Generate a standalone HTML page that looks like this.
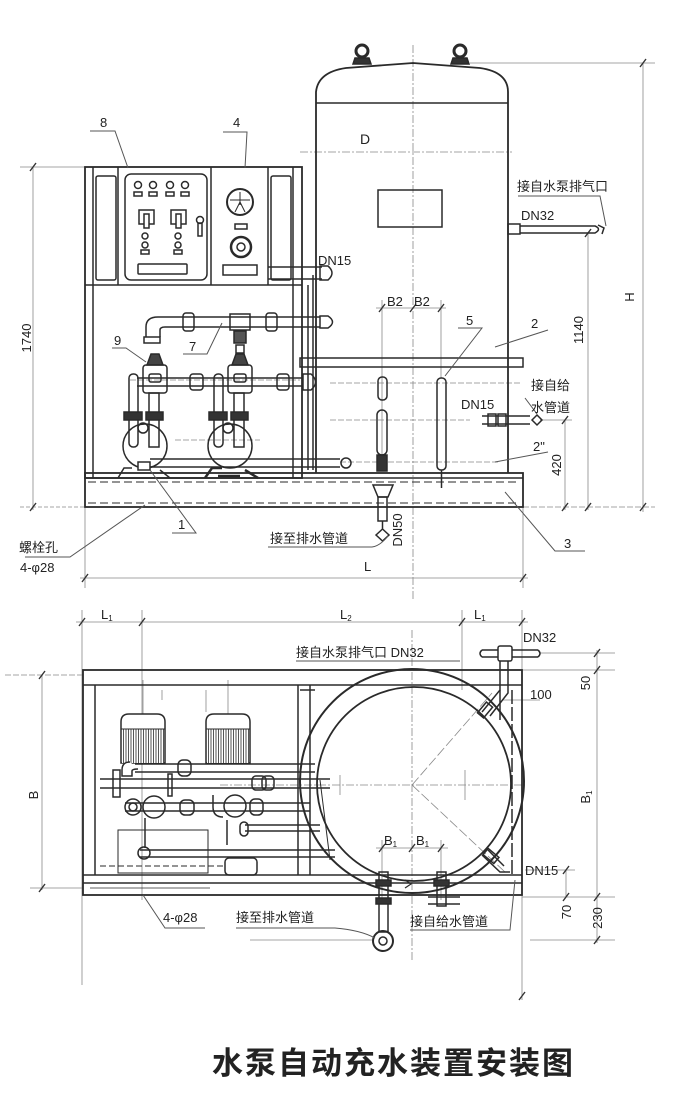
<!DOCTYPE html>
<html><head><meta charset="utf-8"><style>
html,body{margin:0;padding:0;background:#fff;}
svg{display:block;}
text{font-family:"Liberation Sans","Noto Sans CJK SC",sans-serif;fill:#222;stroke:none;}
</style></head><body>
<svg width="675" height="1100" viewBox="0 0 675 1100" xmlns="http://www.w3.org/2000/svg">
<defs>
<pattern id="hv" width="2.5" height="4" patternUnits="userSpaceOnUse"><rect width="2.5" height="4" fill="#fff"/><line x1="1" y1="0" x2="1" y2="4" stroke="#555" stroke-width="1"/></pattern>
</defs>

<!-- ============ CENTER / DIM LINES (thin) ============ -->
<g fill="none" stroke="#888" stroke-width="0.8">
  <!-- elevation -->
  <line x1="413" y1="45" x2="413" y2="600" stroke-dasharray="8 2 2 2"/>
  <line x1="300" y1="152" x2="512" y2="152" stroke-dasharray="8 2 2 2"/>
  <line x1="470" y1="63" x2="655" y2="63"/>
  <line x1="643" y1="63" x2="643" y2="512"/>
  <line x1="523" y1="507" x2="655" y2="507" stroke-dasharray="6 2"/>
  <line x1="588" y1="233" x2="588" y2="510"/>
  <line x1="565" y1="420" x2="565" y2="510"/>
  <line x1="540" y1="420" x2="572" y2="420"/>
  <line x1="20" y1="167" x2="85" y2="167"/>
  <line x1="33" y1="167" x2="33" y2="510"/>
  <line x1="20" y1="507" x2="85" y2="507" stroke-dasharray="4 2"/>
  <line x1="85" y1="507" x2="85" y2="588"/>
  <line x1="523" y1="507" x2="523" y2="588"/>
  <line x1="80" y1="578" x2="528" y2="578"/>
  <line x1="382" y1="300" x2="382" y2="470"/>
  <line x1="441" y1="300" x2="441" y2="378"/>
  <line x1="376" y1="308" x2="446" y2="308"/>
  <line x1="330" y1="383" x2="520" y2="383" stroke-dasharray="6 2"/>
  <line x1="330" y1="420" x2="470" y2="420" stroke-dasharray="6 2"/>
  <line x1="340" y1="462" x2="500" y2="462" stroke-dasharray="6 2"/>
  <line x1="130" y1="380" x2="300" y2="380" stroke-dasharray="6 2"/>
  <line x1="175" y1="440" x2="260" y2="440" stroke-dasharray="6 2"/>
  <!-- plan -->
  <line x1="82" y1="610" x2="82" y2="985"/>
  <line x1="142" y1="610" x2="142" y2="900"/>
  <line x1="462" y1="610" x2="462" y2="690"/>
  <line x1="522" y1="610" x2="522" y2="1000"/>
  <line x1="76" y1="622" x2="528" y2="622"/>
  <line x1="5" y1="675" x2="83" y2="675" stroke-dasharray="6 2"/>
  <line x1="30" y1="888" x2="83" y2="888"/>
  <line x1="42" y1="675" x2="42" y2="890"/>
  <line x1="540" y1="653" x2="615" y2="653"/>
  <line x1="522" y1="670" x2="615" y2="670"/>
  <line x1="522" y1="897" x2="615" y2="897"/>
  <line x1="530" y1="940" x2="615" y2="940"/>
  <line x1="597" y1="650" x2="597" y2="943"/>
  <line x1="566" y1="870" x2="566" y2="897"/>
  <line x1="525" y1="870" x2="575" y2="870"/>
  <line x1="412" y1="630" x2="412" y2="960" stroke-dasharray="8 2 2 2"/>
  <line x1="220" y1="785" x2="525" y2="785" stroke-dasharray="8 2 2 2"/>
  <line x1="412" y1="785" x2="492" y2="693" stroke-dasharray="10 3"/>
  <line x1="412" y1="785" x2="505" y2="872" stroke-dasharray="10 3"/>
  <line x1="382" y1="840" x2="382" y2="900"/>
  <line x1="441" y1="840" x2="441" y2="900"/>
  <line x1="376" y1="848" x2="448" y2="848"/>
  <line x1="340" y1="775" x2="340" y2="795"/>
  <line x1="465" y1="770" x2="465" y2="800"/>
  <line x1="502" y1="700" x2="540" y2="700"/>
  <line x1="250" y1="940" x2="372" y2="940"/>
  <line x1="162" y1="700" x2="162" y2="690"/>
  <line x1="206" y1="690" x2="206" y2="712"/>
  <line x1="143" y1="680" x2="143" y2="715"/>
  <line x1="228" y1="680" x2="228" y2="715"/>
</g>
<!-- dimension ticks -->
<g stroke="#333" stroke-width="1.4">
  <line x1="640" y1="67" x2="646" y2="59"/><line x1="640" y1="511" x2="646" y2="503"/>
  <line x1="585" y1="237" x2="591" y2="229"/><line x1="585" y1="511" x2="591" y2="503"/>
  <line x1="562" y1="424" x2="568" y2="416"/><line x1="562" y1="511" x2="568" y2="503"/>
  <line x1="30" y1="171" x2="36" y2="163"/><line x1="30" y1="511" x2="36" y2="503"/>
  <line x1="82" y1="582" x2="88" y2="574"/><line x1="520" y1="582" x2="526" y2="574"/>
  <line x1="379" y1="312" x2="385" y2="304"/><line x1="410" y1="312" x2="416" y2="304"/><line x1="438" y1="312" x2="444" y2="304"/>
  <line x1="79" y1="626" x2="85" y2="618"/><line x1="139" y1="626" x2="145" y2="618"/><line x1="459" y1="626" x2="465" y2="618"/><line x1="519" y1="626" x2="525" y2="618"/>
  <line x1="39" y1="679" x2="45" y2="671"/><line x1="39" y1="892" x2="45" y2="884"/>
  <line x1="594" y1="657" x2="600" y2="649"/><line x1="594" y1="674" x2="600" y2="666"/><line x1="594" y1="901" x2="600" y2="893"/><line x1="594" y1="944" x2="600" y2="936"/>
  <line x1="379" y1="852" x2="385" y2="844"/><line x1="409" y1="852" x2="415" y2="844"/><line x1="438" y1="852" x2="444" y2="844"/>
  <line x1="563" y1="874" x2="569" y2="866"/><line x1="563" y1="901" x2="569" y2="893"/>
  <line x1="519" y1="1000" x2="525" y2="992"/>
</g>

<!-- ============ ELEVATION VIEW ============ -->
<g fill="none" stroke="#2a2a2a" stroke-width="1.5">
  <!-- tank -->
  <path d="M316,473 V92 Q318,72 346,68 L413,63 L480,68 Q508,72 508,92 V473" stroke-width="1.8"/>
  <line x1="316" y1="103" x2="508" y2="103"/>
  <rect x="378" y="190" width="64" height="37"/>
  <circle cx="362" cy="51" r="6" stroke-width="3"/>
  <circle cx="460" cy="51" r="6" stroke-width="3"/>
  <path d="M355,58 h14 l2,6 h-18z M453,58 h14 l2,6 h-18z" fill="#333"/>
  <!-- DN32 top pipe -->
  <rect x="508" y="224" width="12" height="10"/>
  <path d="M520,226 H595 Q602,229 595,233 H520"/>
  <path d="M598,225 l6,3 -2,6" />
  <!-- cabinet frame -->
  <rect x="85" y="167" width="217" height="311" stroke-width="1.8"/>
  <line x1="93" y1="167" x2="93" y2="478"/>
  <line x1="293" y1="167" x2="293" y2="478"/>
  <line x1="85" y1="285" x2="302" y2="285"/>
  <line x1="118" y1="167" x2="118" y2="285"/>
  <line x1="268" y1="167" x2="268" y2="285"/>
  <line x1="211" y1="167" x2="211" y2="285"/>
  <rect x="96" y="176" width="20" height="104" rx="2"/>
  <rect x="271" y="176" width="20" height="104" rx="2"/>
  <rect x="125" y="174" width="82" height="106" rx="6"/>
  <!-- lamps -->
  <circle cx="138" cy="185" r="3.5"/><circle cx="153" cy="185" r="3.5"/><circle cx="170" cy="185" r="3.5"/><circle cx="185" cy="185" r="3.5"/>
  <rect x="134" y="192" width="8" height="4"/><rect x="149" y="192" width="8" height="4"/><rect x="166" y="192" width="8" height="4"/><rect x="181" y="192" width="8" height="4"/>
  <rect x="139" y="210" width="15" height="14"/><rect x="171" y="210" width="15" height="14"/>
  <rect x="144" y="214" width="5" height="14" fill="#fff"/><rect x="176" y="214" width="5" height="14" fill="#fff"/>
  <circle cx="200" cy="220" r="3.5"/><rect x="198" y="223" width="4" height="13"/>
  <circle cx="145" cy="236" r="3"/><circle cx="145" cy="245" r="3"/><rect x="141" y="250" width="8" height="4"/>
  <circle cx="178" cy="236" r="3"/><circle cx="178" cy="245" r="3"/><rect x="174" y="250" width="8" height="4"/>
  <rect x="138" y="264" width="49" height="10" rx="1"/>
  <!-- gauge panel -->
  <circle cx="240" cy="202" r="13" stroke-width="2"/>
  <path d="M240,192 V205 M235,212 L240,202 L245,212 M230,200 L250,200" stroke-width="1"/>
  <rect x="235" y="224" width="12" height="5"/>
  <circle cx="241" cy="247" r="10" stroke-width="2.5"/><circle cx="241" cy="247" r="4"/>
  <rect x="223" y="265" width="34" height="10"/>
  <!-- DN15 from cabinet -->
  <path d="M268,267 H322 M268,279 H322"/>
  <path d="M320,266 h8 q8,7 0,14 h-8z"/>
  <line x1="313" y1="275" x2="313" y2="470"/>
  <line x1="308" y1="285" x2="308" y2="470"/>
  <!-- shelf -->
  <rect x="300" y="358" width="223" height="9"/>
  <!-- base -->
  <rect x="85" y="473" width="438" height="34" stroke-width="1.8"/>
  <line x1="85" y1="478" x2="523" y2="478"/>
  <line x1="88" y1="503" x2="520" y2="503" stroke-dasharray="8 4" stroke-width="1"/>
  <line x1="88" y1="482" x2="520" y2="482" stroke-dasharray="8 4" stroke-width="1"/>

  <!-- top pipe -->
  <path d="M146,337 V327 Q146,317 158,317 H320 M160,337 V330 Q160,327 165,327 H320"/>
  <path d="M320,316 h8 q9,6 0,12 h-8z"/>
  <rect x="183" y="313" width="11" height="18" rx="3"/>
  <rect x="230" y="314" width="20" height="16"/>
  <rect x="266" y="313" width="11" height="18" rx="3"/>
  <rect x="234" y="331" width="12" height="12" fill="#555"/>
  <rect x="236" y="345" width="8" height="8"/>
  <rect x="144" y="337" width="16" height="6"/>
  <!-- second pipe -->
  <path d="M137,378 H303 M137,386 H303"/>
  <path d="M303,374 h8 q9,8 0,16 h-8z"/>
  <rect x="190" y="374" width="13" height="16" rx="3"/>
  <rect x="277" y="374" width="12" height="16" rx="3"/>
  <!-- bottom pipe -->
  <path d="M150,459 H340 M150,467 H340"/>
  <circle cx="346" cy="463" r="5"/>
  <!-- pump 1 -->
  <path d="M147,365 L151,354 H159 L163,365 Z" fill="#444"/>
  <rect x="143" y="365" width="24" height="28" rx="3"/>
  <rect x="149" y="374" width="12" height="8" rx="2"/>
  <rect x="129" y="374" width="9" height="73" rx="4"/>
  <rect x="149" y="393" width="10" height="54"/>
  <rect x="124" y="412" width="18" height="8" fill="#333"/>
  <rect x="146" y="412" width="17" height="8" fill="#333"/>
  <circle cx="143" cy="428" r="5"/>
  <circle cx="145" cy="446" r="22"/>
  <path d="M118,478 L124,468 H132 M160,470 L170,478" />
  <rect x="138" y="462" width="12" height="8" fill="#fff"/>
  <!-- pump 2 -->
  <path d="M232,365 L236,354 H244 L248,365 Z" fill="#444"/>
  <rect x="228" y="365" width="24" height="28" rx="3"/>
  <rect x="234" y="374" width="12" height="8" rx="2"/>
  <rect x="214" y="374" width="9" height="73" rx="4"/>
  <rect x="234" y="393" width="10" height="54"/>
  <rect x="209" y="412" width="18" height="8" fill="#333"/>
  <rect x="231" y="412" width="17" height="8" fill="#333"/>
  <circle cx="228" cy="428" r="5"/>
  <circle cx="230" cy="446" r="22"/>
  <path d="M205,478 L212,468 H222 M245,470 L258,478 M218,476 h22" stroke-width="2.5"/>

  <!-- sight glass 5 -->
  <rect x="437" y="378" width="9" height="92" rx="4"/>
  <line x1="441.5" y1="470" x2="441.5" y2="488"/>
  <!-- left drain item -->
  <rect x="378" y="377" width="9" height="23" rx="4"/>
  <rect x="377" y="410" width="10" height="45" rx="5"/>
  <rect x="377" y="455" width="10" height="16" fill="#333"/>
  <path d="M373,485 H393 L388,497 H378 Z"/>
  <rect x="378" y="497" width="9" height="24"/>
  <path d="M382.5,521 V530 M376,535 L382.5,529 L389,535 L382.5,541 Z"/>
  <!-- DN15 supply -->
  <path d="M482,416 H530 M482,424 H530"/>
  <rect x="488" y="414" width="8" height="12"/><rect x="498" y="414" width="8" height="12"/>
  <path d="M532,420 l5,-5 5,5 -5,5z"/>
  <!-- leaders -->
  <g stroke-width="1" stroke="#555">
    <path d="M90,131 H115 L128,168"/>
    <path d="M223,132 H247 L245,168"/>
    <path d="M112,348 H126 L146,362"/>
    <path d="M183,354 H207 L222,323"/>
    <path d="M172,533 H196 L150,470"/>
    <path d="M25,557 H70 L145,505"/>
    <path d="M458,328 H482 L445,376"/>
    <path d="M548,330 L495,347"/>
    <path d="M548,452 L495,462"/>
    <path d="M505,492 L555,551 H585"/>
    <path d="M518,196 H600 L606,226"/>
    <path d="M268,547 H372 Q380,546 388,536"/>
    <path d="M525,398 L537,414"/>
  </g>
</g>

<!-- ============ PLAN VIEW ============ -->
<g fill="none" stroke="#2a2a2a" stroke-width="1.5">
  <rect x="83" y="670" width="439" height="225" stroke-width="1.8"/>
  <line x1="83" y1="685" x2="522" y2="685"/>
  <line x1="95" y1="685" x2="95" y2="875"/>
  <line x1="83" y1="875" x2="522" y2="875"/>
  <line x1="83" y1="883" x2="522" y2="883"/>
  <line x1="90" y1="888" x2="210" y2="888" stroke-width="0.8"/>
  <line x1="298" y1="685" x2="298" y2="875"/>
  <line x1="310" y1="685" x2="310" y2="875"/>
  <line x1="512" y1="690" x2="512" y2="875" stroke-dasharray="14 3"/>
  <line x1="500" y1="690" x2="500" y2="720"/>
  <line x1="300" y1="690" x2="315" y2="690"/>
  <!-- tank circles -->
  <circle cx="412" cy="781" r="112" stroke-width="2"/>
  <circle cx="414" cy="784" r="97" stroke-width="1.8"/>
  <!-- motors -->
  <path d="M121,763 V722 Q121,714 129,714 H157 Q165,714 165,722 V763 Z" fill="#fff"/>
  <rect x="122" y="729" width="42" height="34" fill="url(#hv)" stroke="none"/>
  <path d="M206,763 V722 Q206,714 214,714 H242 Q250,714 250,722 V763 Z" fill="#fff"/>
  <rect x="207" y="729" width="42" height="34" fill="url(#hv)" stroke="none"/>
  <line x1="121" y1="729" x2="165" y2="729" stroke-width="1"/>
  <line x1="206" y1="729" x2="250" y2="729" stroke-width="1"/>
  <!-- pipes -->
  <path d="M135,764 H315 M135,772 H315"/>
  <path d="M130,762 q-8,0 -8,8 v6 h10 v-5 q0,-2 6,-2" fill="#fff"/>
  <rect x="178" y="760" width="13" height="16" rx="5"/>
  <path d="M100,779 H330 M100,788 H330"/>
  <rect x="113" y="770" width="7" height="27"/>
  <rect x="168" y="774" width="4" height="22"/>
  <rect x="252" y="776" width="14" height="14" rx="4"/>
  <rect x="262" y="776" width="12" height="14" rx="4"/>
  <path d="M125,803 H310 M125,811 H310"/>
  <circle cx="133" cy="807" r="8"/><circle cx="133" cy="807" r="4"/>
  <circle cx="154" cy="807" r="11"/>
  <rect x="180" y="800" width="14" height="15" rx="5"/>
  <circle cx="235" cy="806" r="11"/>
  <path d="M213,795 v12 q0,10 10,10" />
  <rect x="250" y="799" width="13" height="16" rx="5"/>
  <path d="M245,825 H320 M245,831 H320"/>
  <rect x="240" y="822" width="8" height="14" rx="4"/>
  <path d="M140,850 H335 M140,857 H335"/>
  <circle cx="144" cy="853" r="6"/>
  <line x1="145" y1="818" x2="145" y2="848"/>
  <line x1="227" y1="820" x2="227" y2="845"/>
  <rect x="118" y="830" width="90" height="43" stroke-width="1"/>
  <rect x="225" y="858" width="32" height="17" rx="4"/>
  <line x1="100" y1="866" x2="225" y2="866" stroke-dasharray="6 3" stroke-width="1"/>
  <line x1="320" y1="780" x2="330" y2="860" stroke-width="1"/>
  <!-- DN32 top -->
  <path d="M482,650 H538 M482,657 H538"/>
  <path d="M482,650 q-4,3.5 0,7"/><path d="M538,650 q4,3.5 0,7"/>
  <rect x="498" y="646" width="14" height="15" rx="2" fill="#fff"/>
  <path d="M500,661 V690 L482,712 M508,661 V693 L490,716"/>
  <rect x="478" y="706" width="14" height="8" transform="rotate(-50 485 710)"/>
  <!-- DN15 bottom right -->
  <path d="M482,855 L500,872 H510 M488,850 L504,866"/>
  <rect x="484" y="852" width="14" height="8" transform="rotate(40 491 856)"/>
  <!-- drain & supply bottom -->
  <rect x="379" y="872" width="9" height="60"/>
  <rect x="376" y="880" width="15" height="6" fill="#333"/>
  <rect x="376" y="898" width="15" height="6" fill="#333"/>
  <circle cx="383" cy="941" r="10" stroke-width="2"/><circle cx="383" cy="941" r="4"/>
  <rect x="437" y="872" width="9" height="34"/>
  <rect x="434" y="880" width="15" height="6" fill="#333"/>
  <path d="M428,897 H460 M428,904 H460"/>
  <path d="M405,880 l6,4 -6,4" stroke-width="1.2"/>
  <!-- leaders -->
  <g stroke-width="1" stroke="#555">
    <path d="M143,895 L165,928 H205"/>
    <path d="M236,928 H335 Q360,930 375,938"/>
    <path d="M296,661 H460"/>
    <path d="M410,930 H510 L515,880"/>
  </g>
</g>

<!-- ============ TEXT ============ -->
<g font-size="13">
  <text x="100" y="127">8</text>
  <text x="233" y="127">4</text>
  <text x="360" y="144" font-size="14">D</text>
  <text x="517" y="191" font-size="13">接自水泵排气口</text>
  <text x="521" y="220" font-size="13">DN32</text>
  <text x="318" y="265" font-size="13">DN15</text>
  <text x="387" y="306" font-size="13">B2</text>
  <text x="414" y="306" font-size="13">B2</text>
  <text x="466" y="325">5</text>
  <text x="531" y="328">2</text>
  <text x="114" y="345">9</text>
  <text x="189" y="351">7</text>
  <text x="531" y="390">接自给</text>
  <text x="531" y="412">水管道</text>
  <text x="461" y="409">DN15</text>
  <text x="533" y="451">2"</text>
  <text x="178" y="529">1</text>
  <text x="564" y="548">3</text>
  <text x="19" y="552">螺栓孔</text>
  <text x="20" y="572">4-φ28</text>
  <text x="270" y="543">接至排水管道</text>
  <text x="364" y="571">L</text>
  <text transform="translate(31,338) rotate(-90)" text-anchor="middle" font-size="13">1740</text>
  <text transform="translate(583,330) rotate(-90)" text-anchor="middle" font-size="13">1140</text>
  <text transform="translate(561,465) rotate(-90)" text-anchor="middle" font-size="13">420</text>
  <text transform="translate(634,297) rotate(-90)" text-anchor="middle" font-size="13">H</text>
  <text transform="translate(402,530) rotate(-90)" text-anchor="middle" font-size="13">DN50</text>

  <text x="101" y="619">L<tspan font-size="8" dy="2">1</tspan></text>
  <text x="340" y="619">L<tspan font-size="8" dy="2">2</tspan></text>
  <text x="474" y="619">L<tspan font-size="8" dy="2">1</tspan></text>
  <text x="523" y="642">DN32</text>
  <text x="296" y="657">接自水泵排气口 DN32</text>
  <text x="530" y="699">100</text>
  <text x="525" y="875">DN15</text>
  <text x="384" y="845">B<tspan font-size="8" dy="2">1</tspan></text>
  <text x="416" y="845">B<tspan font-size="8" dy="2">1</tspan></text>
  <text x="410" y="926">接自给水管道</text>
  <text x="236" y="922">接至排水管道</text>
  <text x="163" y="922">4-φ28</text>
  <text transform="translate(38,795) rotate(-90)" text-anchor="middle">B</text>
  <text transform="translate(590,683) rotate(-90)" text-anchor="middle">50</text>
  <text transform="translate(590,797) rotate(-90)" text-anchor="middle">B<tspan font-size="8" dy="2">1</tspan></text>
  <text transform="translate(571,912) rotate(-90)" text-anchor="middle">70</text>
  <text transform="translate(602,918) rotate(-90)" text-anchor="middle">230</text>
</g>

<text x="212" y="1074" font-size="31" letter-spacing="2" font-weight="bold">水泵自动充水装置安装图</text>
</svg>
</body></html>
